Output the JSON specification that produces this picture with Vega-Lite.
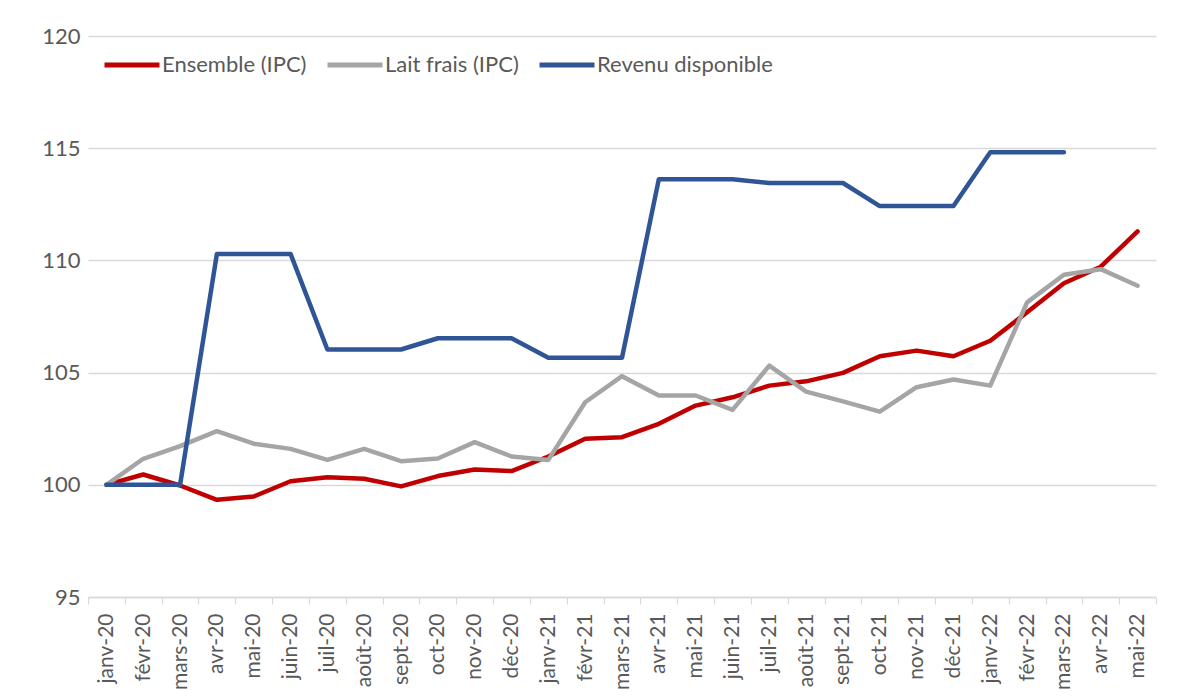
{
  "$schema": "https://vega.github.io/schema/vega-lite/v6.json",
  "autosize": "none",
  "width": 1068,
  "height": 561,
  "padding": {"left": 88, "top": 36, "right": 22, "bottom": 99},
  "background": "white",
  "config": {"view": {"stroke": null}, "font": "Lato"},
  "data": {"values": [
    {"mois": "janv-20", "serie": "Ensemble (IPC)", "valeur": 100},
    {"mois": "févr-20", "serie": "Ensemble (IPC)", "valeur": 100.46},
    {"mois": "mars-20", "serie": "Ensemble (IPC)", "valeur": 99.97},
    {"mois": "avr-20", "serie": "Ensemble (IPC)", "valeur": 99.33},
    {"mois": "mai-20", "serie": "Ensemble (IPC)", "valeur": 99.48},
    {"mois": "juin-20", "serie": "Ensemble (IPC)", "valeur": 100.16},
    {"mois": "juil-20", "serie": "Ensemble (IPC)", "valeur": 100.34},
    {"mois": "août-20", "serie": "Ensemble (IPC)", "valeur": 100.27},
    {"mois": "sept-20", "serie": "Ensemble (IPC)", "valeur": 99.93},
    {"mois": "oct-20", "serie": "Ensemble (IPC)", "valeur": 100.39},
    {"mois": "nov-20", "serie": "Ensemble (IPC)", "valeur": 100.68},
    {"mois": "déc-20", "serie": "Ensemble (IPC)", "valeur": 100.61},
    {"mois": "janv-21", "serie": "Ensemble (IPC)", "valeur": 101.26},
    {"mois": "févr-21", "serie": "Ensemble (IPC)", "valeur": 102.05},
    {"mois": "mars-21", "serie": "Ensemble (IPC)", "valeur": 102.12},
    {"mois": "avr-21", "serie": "Ensemble (IPC)", "valeur": 102.72},
    {"mois": "mai-21", "serie": "Ensemble (IPC)", "valeur": 103.53},
    {"mois": "juin-21", "serie": "Ensemble (IPC)", "valeur": 103.9},
    {"mois": "juil-21", "serie": "Ensemble (IPC)", "valeur": 104.42},
    {"mois": "août-21", "serie": "Ensemble (IPC)", "valeur": 104.61},
    {"mois": "sept-21", "serie": "Ensemble (IPC)", "valeur": 104.99},
    {"mois": "oct-21", "serie": "Ensemble (IPC)", "valeur": 105.73},
    {"mois": "nov-21", "serie": "Ensemble (IPC)", "valeur": 105.98},
    {"mois": "déc-21", "serie": "Ensemble (IPC)", "valeur": 105.73},
    {"mois": "janv-22", "serie": "Ensemble (IPC)", "valeur": 106.42},
    {"mois": "févr-22", "serie": "Ensemble (IPC)", "valeur": 107.69},
    {"mois": "mars-22", "serie": "Ensemble (IPC)", "valeur": 108.98},
    {"mois": "avr-22", "serie": "Ensemble (IPC)", "valeur": 109.72},
    {"mois": "mai-22", "serie": "Ensemble (IPC)", "valeur": 111.29},
    {"mois": "janv-20", "serie": "Lait frais (IPC)", "valeur": 100},
    {"mois": "févr-20", "serie": "Lait frais (IPC)", "valeur": 101.16},
    {"mois": "mars-20", "serie": "Lait frais (IPC)", "valeur": 101.72},
    {"mois": "avr-20", "serie": "Lait frais (IPC)", "valeur": 102.39},
    {"mois": "mai-20", "serie": "Lait frais (IPC)", "valeur": 101.83},
    {"mois": "juin-20", "serie": "Lait frais (IPC)", "valeur": 101.6},
    {"mois": "juil-20", "serie": "Lait frais (IPC)", "valeur": 101.11},
    {"mois": "août-20", "serie": "Lait frais (IPC)", "valeur": 101.6},
    {"mois": "sept-20", "serie": "Lait frais (IPC)", "valeur": 101.05},
    {"mois": "oct-20", "serie": "Lait frais (IPC)", "valeur": 101.17},
    {"mois": "nov-20", "serie": "Lait frais (IPC)", "valeur": 101.9},
    {"mois": "déc-20", "serie": "Lait frais (IPC)", "valeur": 101.26},
    {"mois": "janv-21", "serie": "Lait frais (IPC)", "valeur": 101.11},
    {"mois": "févr-21", "serie": "Lait frais (IPC)", "valeur": 103.68},
    {"mois": "mars-21", "serie": "Lait frais (IPC)", "valeur": 104.84},
    {"mois": "avr-21", "serie": "Lait frais (IPC)", "valeur": 103.98},
    {"mois": "mai-21", "serie": "Lait frais (IPC)", "valeur": 103.98},
    {"mois": "juin-21", "serie": "Lait frais (IPC)", "valeur": 103.34},
    {"mois": "juil-21", "serie": "Lait frais (IPC)", "valeur": 105.31},
    {"mois": "août-21", "serie": "Lait frais (IPC)", "valeur": 104.15},
    {"mois": "sept-21", "serie": "Lait frais (IPC)", "valeur": 103.72},
    {"mois": "oct-21", "serie": "Lait frais (IPC)", "valeur": 103.26},
    {"mois": "nov-21", "serie": "Lait frais (IPC)", "valeur": 104.35},
    {"mois": "déc-21", "serie": "Lait frais (IPC)", "valeur": 104.69},
    {"mois": "janv-22", "serie": "Lait frais (IPC)", "valeur": 104.42},
    {"mois": "févr-22", "serie": "Lait frais (IPC)", "valeur": 108.13},
    {"mois": "mars-22", "serie": "Lait frais (IPC)", "valeur": 109.36},
    {"mois": "avr-22", "serie": "Lait frais (IPC)", "valeur": 109.61},
    {"mois": "mai-22", "serie": "Lait frais (IPC)", "valeur": 108.87},
    {"mois": "janv-20", "serie": "Revenu disponible", "valeur": 100},
    {"mois": "févr-20", "serie": "Revenu disponible", "valeur": 100},
    {"mois": "mars-20", "serie": "Revenu disponible", "valeur": 100},
    {"mois": "avr-20", "serie": "Revenu disponible", "valeur": 110.29},
    {"mois": "mai-20", "serie": "Revenu disponible", "valeur": 110.29},
    {"mois": "juin-20", "serie": "Revenu disponible", "valeur": 110.29},
    {"mois": "juil-20", "serie": "Revenu disponible", "valeur": 106.03},
    {"mois": "août-20", "serie": "Revenu disponible", "valeur": 106.03},
    {"mois": "sept-20", "serie": "Revenu disponible", "valeur": 106.03},
    {"mois": "oct-20", "serie": "Revenu disponible", "valeur": 106.53},
    {"mois": "nov-20", "serie": "Revenu disponible", "valeur": 106.53},
    {"mois": "déc-20", "serie": "Revenu disponible", "valeur": 106.53},
    {"mois": "janv-21", "serie": "Revenu disponible", "valeur": 105.66},
    {"mois": "févr-21", "serie": "Revenu disponible", "valeur": 105.66},
    {"mois": "mars-21", "serie": "Revenu disponible", "valeur": 105.66},
    {"mois": "avr-21", "serie": "Revenu disponible", "valeur": 113.62},
    {"mois": "mai-21", "serie": "Revenu disponible", "valeur": 113.62},
    {"mois": "juin-21", "serie": "Revenu disponible", "valeur": 113.62},
    {"mois": "juil-21", "serie": "Revenu disponible", "valeur": 113.45},
    {"mois": "août-21", "serie": "Revenu disponible", "valeur": 113.45},
    {"mois": "sept-21", "serie": "Revenu disponible", "valeur": 113.45},
    {"mois": "oct-21", "serie": "Revenu disponible", "valeur": 112.42},
    {"mois": "nov-21", "serie": "Revenu disponible", "valeur": 112.42},
    {"mois": "déc-21", "serie": "Revenu disponible", "valeur": 112.42},
    {"mois": "janv-22", "serie": "Revenu disponible", "valeur": 114.82},
    {"mois": "févr-22", "serie": "Revenu disponible", "valeur": 114.82},
    {"mois": "mars-22", "serie": "Revenu disponible", "valeur": 114.82}
  ]},
  "mark": {"type": "line", "strokeWidth": 4.5, "strokeJoin": "round", "strokeCap": "round"},
  "encoding": {
    "x": {
      "field": "mois", "type": "ordinal", "sort": null,
      "scale": {"type": "band", "paddingInner": 0, "paddingOuter": 0},
      "bandPosition": 0.5,
      "axis": {
        "title": null, "labelAngle": 270, "labelAlign": "right", "labelBaseline": "middle",
        "labelFontSize": 21, "labelColor": "#595959", "labelPadding": 9, "labelFont": "Lato",
        "tickBand": "extent", "tickColor": "#d9d9d9", "tickSize": 7, "tickWidth": 1.2,
        "domainColor": "#d9d9d9", "domainWidth": 1.5, "grid": false
      }
    },
    "y": {
      "field": "valeur", "type": "quantitative",
      "scale": {"domain": [95, 120], "nice": false, "zero": false},
      "axis": {
        "title": null, "values": [95, 100, 105, 110, 115, 120], "domain": false, "ticks": false,
        "labelFontSize": 22, "labelColor": "#595959", "labelPadding": 8, "labelFont": "Lato",
        "gridColor": "#d9d9d9", "gridWidth": 1.5
      }
    },
    "color": {
      "field": "serie", "type": "nominal",
      "scale": {"domain": ["Ensemble (IPC)", "Lait frais (IPC)", "Revenu disponible"], "range": ["#C00000", "#A5A5A5", "#2F5597"]},
      "legend": {
        "title": null, "orient": "none", "legendX": 14, "legendY": -1, "direction": "horizontal",
        "symbolType": "stroke", "symbolSize": 3025, "symbolStrokeWidth": 5,
        "labelFontSize": 22, "labelColor": "#595959", "labelFont": "Lato", "labelOffset": 0,
        "labelLimit": 400, "columnPadding": 10, "symbolOffset": 0
      }
    }
  }
}
